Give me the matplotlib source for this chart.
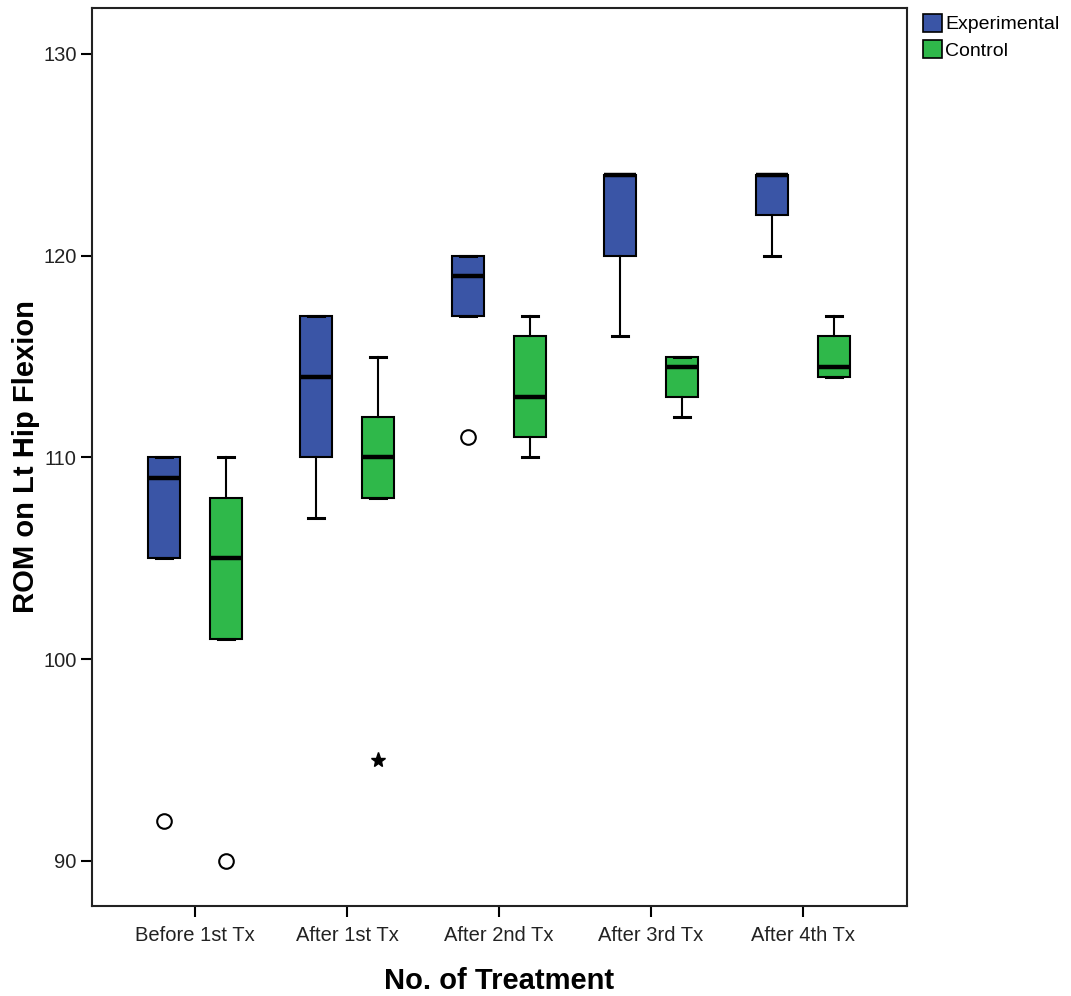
import matplotlib
matplotlib.use("Agg")
import matplotlib.pyplot as plt
from matplotlib.patches import Patch

plt.rcParams["font.family"] = ["Liberation Sans", "DejaVu Sans"]

# Treatment stages on the x axis
stages = ["Before 1st Tx", "After 1st Tx", "After 2nd Tx", "After 3rd Tx", "After 4th Tx"]

# Box summaries per group: (whisker low, Q1, median, Q3, whisker high)
exp_low = [105, 107, 117, 116, 120]
exp_q1 = [105, 110, 117, 120, 122]
exp_med = [109, 114, 119, 124, 124]
exp_q3 = [110, 117, 120, 124, 124]
exp_high = [110, 117, 120, 124, 124]
exp_outliers = [[92], [], [111], [], []]
exp_extremes = [[], [], [], [], []]

ctl_low = [101, 108, 110, 112, 114]
ctl_q1 = [101, 108, 111, 113, 114]
ctl_med = [105, 110, 113, 114.5, 114.5]
ctl_q3 = [108, 112, 116, 115, 116]
ctl_high = [110, 115, 117, 115, 117]
ctl_outliers = [[90], [], [], [], []]
ctl_extremes = [[], [95], [], [], []]

EXP_COLOR = "#3A55A6"
CTL_COLOR = "#2FB84A"


def stats(low, q1, med, q3, high, outl):
    return [dict(whislo=a, q1=b, med=c, q3=d, whishi=e, fliers=f)
            for a, b, c, d, e, f in zip(low, q1, med, q3, high, outl)]


fig = plt.figure(figsize=(10.71, 9.96), dpi=100)
ax = fig.add_axes([0.0859, 0.0904, 0.7610, 0.9016])

offset = 0.204
width = 0.21
groups = [
    (stats(exp_low, exp_q1, exp_med, exp_q3, exp_high, exp_outliers), exp_extremes, EXP_COLOR, -offset),
    (stats(ctl_low, ctl_q1, ctl_med, ctl_q3, ctl_high, ctl_outliers), ctl_extremes, CTL_COLOR, offset),
]
for st, extremes, color, off in groups:
    pos = [i + off for i in range(len(stages))]
    ax.bxp(st, positions=pos, widths=width, patch_artist=True, manage_ticks=False,
           boxprops=dict(facecolor=color, edgecolor="black", linewidth=1.5),
           medianprops=dict(color="black", linewidth=3.2, solid_capstyle="butt"),
           whiskerprops=dict(color="black", linewidth=1.5),
           capprops=dict(color="black", linewidth=2.2),
           capwidths=width * 0.5,
           flierprops=dict(marker="o", markerfacecolor="none", markeredgecolor="black",
                           markersize=10.5, markeredgewidth=1.5))
    for p, ext in zip(pos, extremes):
        if ext:
            ax.plot([p] * len(ext), ext, linestyle="none", marker="*", color="black",
                    markersize=11)

ax.set_xlim(-0.678, 4.684)
ax.set_ylim(87.77, 132.28)
ax.set_xticks(range(len(stages)))
ax.set_xticklabels(stages)
ax.set_yticks([90, 100, 110, 120, 130])
ax.tick_params(axis="both", direction="out", length=8, width=1.5, labelsize=14.5,
               labelcolor="#222222")
ax.tick_params(axis="y", pad=3)
ax.tick_params(axis="x", pad=6.5)

for s in ax.spines.values():
    s.set_linewidth(1.5)
    s.set_color("#222222")

ax.set_ylabel("ROM on Lt Hip Flexion", fontsize=21, fontweight="bold", labelpad=2)
ax.set_xlabel("No. of Treatment", fontsize=21, fontweight="bold", labelpad=16)

handles = [Patch(facecolor=EXP_COLOR, edgecolor="black", linewidth=1.2, label="Experimental"),
           Patch(facecolor=CTL_COLOR, edgecolor="black", linewidth=1.2, label="Control")]
fig.legend(handles=handles, loc="upper left", bbox_to_anchor=(0.849, 1.0), frameon=False,
           fontsize=14, handlelength=1.0, handleheight=1.05, handletextpad=0.15,
           labelspacing=0.35, borderpad=0.2)

fig.savefig("out.png", dpi=100)
